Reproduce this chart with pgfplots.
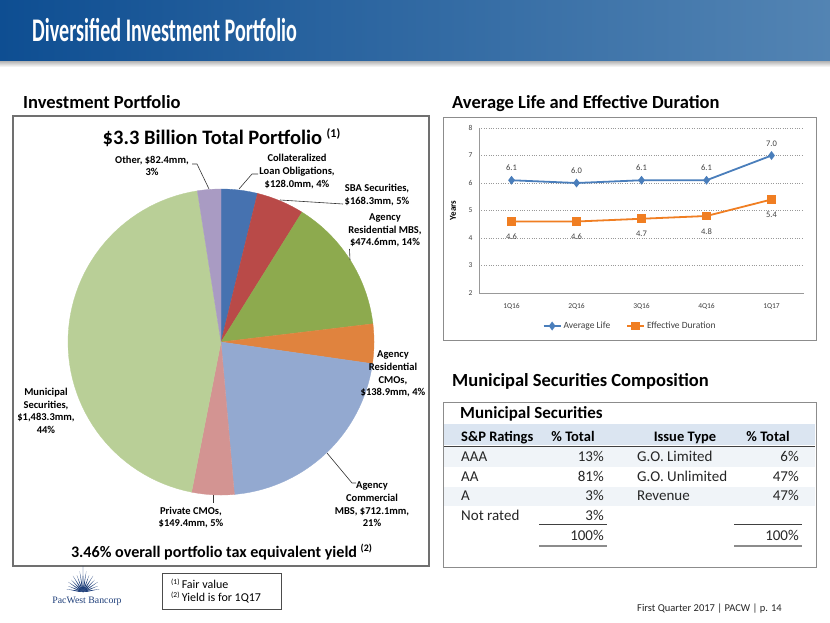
\documentclass[border=0pt]{standalone}
\usepackage{graphicx}
\usepackage{pgfplots}
\pgfplotsset{compat=1.18}
\usepackage{fontspec}
\setmainfont{Carlito}
\newfontfamily\logofont{Liberation Serif}

\definecolor{headL}{HTML}{0E4E92}
\definecolor{headR}{HTML}{5384B3}
\definecolor{cCLO}{HTML}{4672B0}
\definecolor{cSBA}{HTML}{B94A48}
\definecolor{cRMBS}{HTML}{8DAA4E}
\definecolor{cRCMO}{HTML}{E0833E}
\definecolor{cCMBS}{HTML}{93A9D0}
\definecolor{cPriv}{HTML}{D39492}
\definecolor{cMuni}{HTML}{B9CF97}
\definecolor{cOther}{HTML}{A99BC3}
\definecolor{lifeblue}{HTML}{4A7EBB}
\definecolor{durorange}{HTML}{F07E22}
\definecolor{band}{HTML}{DBE5F1}
\definecolor{rowtint}{HTML}{F0F4F8}
\definecolor{logoblue}{HTML}{1F3F7A}
\definecolor{boxgray}{HTML}{8C8C8C}

\newcommand{\fs}[2]{\fontsize{#1bp}{#2bp}\selectfont}

% pie wedge, clockwise from 12 o'clock; total = 3337.0 ($mm)
\def\cum{0}
\newcommand{\pieslice}[2]{%
  \pgfmathsetmacro\angA{90-\cum/3337.0*360}%
  \pgfmathsetmacro\cumnew{\cum+#2}%
  \xdef\cum{\cumnew}%
  \pgfmathsetmacro\angB{90-\cum/3337.0*360}%
  \addplot[draw=#1, line width=0.3bp, fill=#1, domain=\angB:\angA, samples=60, variable=\t]
    ({cos(\t)},{sin(\t)}) -- (axis cs:0,0) -- cycle;
}

\begin{document}
\begin{tikzpicture}
\begin{scope}[x=1bp,y=-1bp]
  \fill[white] (0,0) rectangle (830,623);
  \path[use as bounding box] (0,0) rectangle (830,623);

  % header bar
  \shade[top color=black!35, bottom color=white] (0,60) rectangle (830,67);
  \shade[left color=headL, right color=headR] (0,0) rectangle (830,61);
  \node[anchor=base west, inner sep=0, text=white] at (32,42)
    {\scalebox{0.61}[1]{\fs{33}{36}\bfseries Diversified Investment Portfolio}};

  % section headings
  \node[anchor=base west, inner sep=0] at (23,108.5) {\fs{18.5}{20}\bfseries Investment Portfolio};
  \node[anchor=base west, inner sep=0] at (452,109) {\fs{18.5}{20}\bfseries Average Life and Effective Duration};
  \node[anchor=base west, inner sep=0] at (452,386) {\fs{18.5}{20}\bfseries Municipal Securities Composition};

  % pie panel
  \draw[boxgray!80!black, line width=1.2bp] (13,116) rectangle (429,566);
  \node[anchor=base, inner sep=0] at (221.5,145)
    {\fs{20.5}{22}\bfseries \$3.3 Billion Total Portfolio \raisebox{7bp}{\fs{12}{12}(1)}};

  \node[anchor=base, inner sep=0] at (221.5,557.5)
    {\fs{16.1}{18}\bfseries 3.46\% overall portfolio tax equivalent yield \raisebox{6bp}{\fs{10}{10}(2)}};

  % footnotes
  \draw[black!70, line width=0.8bp] (162,573) rectangle (281,609);
  \node[anchor=base west, inner sep=0] at (171,588.5) {\raisebox{4bp}{\fs{7.5}{8}(1)} \fs{12}{13}Fair value};
  \node[anchor=base west, inner sep=0] at (171,601.7) {\raisebox{4bp}{\fs{7.5}{8}(2)} \fs{12}{13}Yield is for 1Q17};

  % logo
  \foreach \a/\l in {10/17,22/16,34/18,46/17,58/19,70/18,81/21,90/26,99/21,110/18,122/19,134/17,146/18,158/16,170/17}{
    \fill[logoblue, shift={(83,592)}] (0,0) -- (-\a-7:4.5) -- (-\a:\l) -- (-\a+7:4.5) -- cycle;
  }
  \node[anchor=base, inner sep=0, text=logoblue] at (87,603) {\logofont\fs{9.8}{10}PacWest Bancorp};

  % line chart panel
  \draw[boxgray, line width=0.8bp] (443,117) rectangle (816,340);
  \node[rotate=90, inner sep=0, font=\fs{9}{10}\bfseries] at (453,210.5) {Years};

  % municipal table
  \draw[boxgray, line width=1bp] (443,402) rectangle (816,567);
  \fill[band] (444,424) rectangle (815,445);
  \fill[rowtint] (444,447) rectangle (815,467);
  \fill[rowtint] (444,487) rectangle (815,506);
  \draw[black!75, line width=0.9bp] (444,446) -- (815,446);
  \node[anchor=base west, inner sep=0] at (460,418) {\fs{17}{18}\bfseries Municipal Securities};
  \begin{scope}[every node/.style={inner sep=0, font=\fs{14.5}{16}\bfseries}]
    \node[anchor=base west] at (461,441) {S\&P Ratings};
    \node[anchor=base] at (573,441) {\% Total};
    \node[anchor=base] at (685,441) {Issue Type};
    \node[anchor=base] at (768,441) {\% Total};
  \end{scope}
  \begin{scope}[every node/.style={inner sep=0, font=\fs{15}{16}, text=black!85}]
    \node[anchor=base west] at (461,461) {AAA};
    \node[anchor=base west] at (461,481) {AA};
    \node[anchor=base west] at (461,500.5) {A};
    \node[anchor=base west] at (461,520) {Not rated};
    \node[anchor=base east] at (604,461) {13\%};
    \node[anchor=base east] at (604,481) {81\%};
    \node[anchor=base east] at (604,500.5) {3\%};
    \node[anchor=base east] at (604,520) {3\%};
    \node[anchor=base east] at (604,540) {100\%};
    \node[anchor=base west] at (637,461) {G.O. Limited};
    \node[anchor=base west] at (637,481) {G.O. Unlimited};
    \node[anchor=base west] at (637,500.5) {Revenue};
    \node[anchor=base east] at (799,461) {6\%};
    \node[anchor=base east] at (799,481) {47\%};
    \node[anchor=base east] at (799,500.5) {47\%};
    \node[anchor=base east] at (799,540) {100\%};
  \end{scope}
  \draw[black!75, line width=0.8bp] (539,524) -- (607,524) (734,524) -- (802,524);
  \draw[black!45, line width=2.4bp] (539,546) -- (607,546) (734,546) -- (802,546);

  % footer
  \node[anchor=base west, inner sep=0, text=black!85] at (637,611) {\fs{10.5}{12}First Quarter 2017 | PACW | p. 14};
\end{scope}

% pie
\begin{axis}[at={(221bp,-342bp)}, anchor=center, scale only axis,
  width=306bp, height=306bp, xmin=-1, xmax=1, ymin=-1, ymax=1,
  hide axis, clip=false]
  \pieslice{cCLO}{128.0}
  \pieslice{cSBA}{168.3}
  \pieslice{cRMBS}{474.6}
  \pieslice{cRCMO}{138.9}
  \pieslice{cCMBS}{712.1}
  \pieslice{cPriv}{149.4}
  \pieslice{cMuni}{1483.3}
  \pieslice{cOther}{82.4}
\end{axis}

% pie labels and leader lines, on top of the wedges
\begin{scope}[x=1bp,y=-1bp]
  \begin{scope}[every node/.style={align=center, inner sep=0, font=\fs{10.5}{12.7}\bfseries}]
    \node at (152,166) {Other, \$82.4mm,\\3\%};
    \node at (297,171.5) {Collateralized\\Loan Obligations,\\\$128.0mm, 4\%};
    \node at (377,195) {SBA Securities,\\\$168.3mm, 5\%};
    \node at (385,230.5) {Agency\\Residential MBS,\\\$474.6mm, 14\%};
    \node at (393,374) {Agency\\Residential\\CMOs,\\\$138.9mm, 4\%};
    \node at (372,504.5) {Agency\\Commercial\\MBS, \$712.1mm,\\21\%};
    \node at (191,517.5) {Private CMOs,\\\$149.4mm, 5\%};
    \node at (46,411) {Municipal\\Securities,\\\$1,483.3mm,\\44\%};
  \end{scope}
  \begin{scope}[line width=0.6bp, black!80]
    \draw (192,164) -- (197,164) -- (209,189);
    \draw (239,189) -- (252,174) -- (258,174);
    \draw (280,200) -- (343,204);
    \draw (349.5,249) -- (350,260);
    \draw (327,453) -- (352,483) -- (356,483);
    \draw (213,495) -- (213,503);
  \end{scope}
\end{scope}

% average life / effective duration
\begin{axis}[at={(479bp,-293bp)}, anchor=south west, scale only axis,
  width=325bp, height=165bp,
  xmin=0.5, xmax=5.5, ymin=2, ymax=8,
  xtick={1,2,3,4,5}, xticklabels={1Q16,2Q16,3Q16,4Q16,1Q17},
  ytick={2,3,...,8},
  axis x line*=bottom, axis y line*=left,
  axis line style={black!40, line width=0.8bp},
  major tick length=0pt,
  ymajorgrids, grid style={black!40, dotted, line width=0.7bp},
  /pgf/number format/assume math mode=true,
  tick label style={font=\fs{7.5}{8}, text=black!75},
  yticklabel style={xshift=-3bp},
  xticklabel style={yshift=-7bp},
  legend style={at={(0.465,-0.2)}, anchor=center, draw=none, fill=none,
    legend columns=2, font=\fs{9.5}{11}, text=black!75,
    /tikz/every even column/.append style={column sep=14bp}},
]
  \addplot[lifeblue, line width=1.8bp, mark=diamond*, mark size=3bp,
    nodes near coords={\pgfmathprintnumber[fixed,fixed zerofill,precision=1]{\pgfplotspointmeta}},
    every node near coord/.append style={font=\fs{8.5}{9}, text=black!75, anchor=south, yshift=5bp}]
    coordinates {(1,6.1) (2,6.0) (3,6.1) (4,6.1) (5,7.0)};
  \addlegendentry{Average Life}
  \addplot[durorange, line width=1.8bp, mark=square*, mark size=3.5bp,
    nodes near coords={\pgfmathprintnumber[fixed,fixed zerofill,precision=1]{\pgfplotspointmeta}},
    every node near coord/.append style={font=\fs{8.5}{9}, text=black!75, anchor=north, yshift=-8bp}]
    coordinates {(1,4.6) (2,4.6) (3,4.7) (4,4.8) (5,5.4)};
  \addlegendentry{Effective Duration}
\end{axis}
\end{tikzpicture}
\end{document}
